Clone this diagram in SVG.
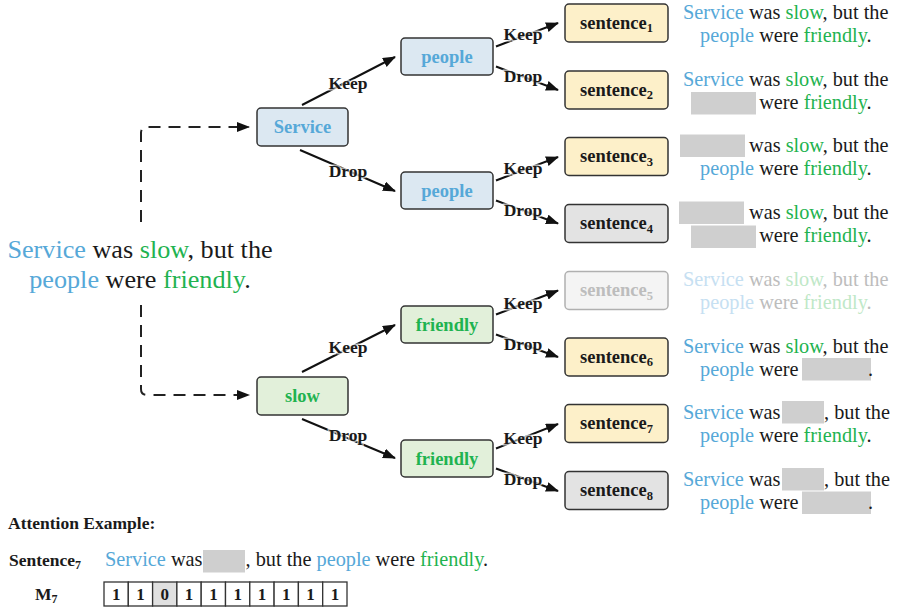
<svg xmlns="http://www.w3.org/2000/svg" width="901" height="608" viewBox="0 0 901 608">
  <style>
    text { font-family: "Liberation Serif", "Times New Roman", serif; fill: #1a1a1a; }
    .b { font-weight: bold; }
    .blue { fill: #56a8d8; }
    .green { fill: #1fb350; }
    .node { stroke: #333; stroke-width: 1.5; }
    .nb { fill: #dce8f2; }
    .ng { fill: #e2f0da; }
    .ny { fill: #fdf0c9; }
    .nx { fill: #e3e3e3; }
    .nf { fill: #f4f4f4; stroke: #b0b0b0; }
    .lbl { font-size: 18.5px; font-weight: bold; text-anchor: middle; }
    .sent { font-size: 18.5px; font-weight: bold; text-anchor: middle; }
    .edge { stroke: #111; stroke-width: 2; fill: none; marker-end: url(#arr); }
    .dash { stroke: #222; stroke-width: 2; fill: none; stroke-dasharray: 12 8; }
    .ek { font-size: 17.5px; font-weight: bold; text-anchor: middle; stroke: #fff; stroke-width: 3; stroke-opacity: 0.65; paint-order: stroke; }
    .st { font-size: 20.3px; }
    .mask { fill: #cfcfcf; }
    .fb { fill: #c6e0f2; }
    .fg { fill: #bfe8c8; }
    .fx { fill: #bdbdbd; }
    .cell { fill: #fff; stroke: #333; stroke-width: 1.3; }
    .dig { font-size: 17px; font-weight: bold; text-anchor: middle; }
  </style>
  <defs>
    <marker id="arr" markerUnits="userSpaceOnUse" markerWidth="14" markerHeight="12" refX="12" refY="5" orient="auto">
      <path d="M0,0 L13,5 L0,10 z" fill="#111"/>
    </marker>
  </defs>

  <!-- source sentence -->
  <g id="source">
    <text x="140" y="257.5" font-size="26.2" text-anchor="middle"><tspan class="blue">Service</tspan> was <tspan class="green">slow</tspan>, but the</text>
    <text x="140" y="288" font-size="26.2" text-anchor="middle"><tspan class="blue">people</tspan> were <tspan class="green">friendly</tspan>.</text>
  </g>

  <!-- connectors -->
  <g id="connectors">
    <path class="dash" d="M141,222 V133 Q141,127 147,127 H249" marker-end="url(#arr)"/>
    <path class="dash" d="M141,305 V389 Q141,395 147,395 H249" marker-end="url(#arr)"/>

    <line class="edge" x1="302" y1="105" x2="395" y2="57"/>
    <line class="edge" x1="300" y1="150" x2="395" y2="191"/>
    <line class="edge" x1="302" y1="372" x2="395" y2="325"/>
    <line class="edge" x1="302" y1="419" x2="395" y2="458"/>

    <line class="edge" x1="496" y1="46.5" x2="558" y2="23"/>
    <line class="edge" x1="496" y1="66.5" x2="558" y2="90"/>
    <line class="edge" x1="496" y1="180.5" x2="558" y2="157"/>
    <line class="edge" x1="496" y1="200.5" x2="558" y2="223.5"/>
    <line class="edge" x1="496" y1="314.5" x2="558" y2="290.5"/>
    <line class="edge" x1="496" y1="334.5" x2="558" y2="357"/>
    <line class="edge" x1="496" y1="448.5" x2="558" y2="424"/>
    <line class="edge" x1="496" y1="468.5" x2="558" y2="491"/>

    <text class="ek" x="348" y="88.5">Keep</text>
    <text class="ek" x="348" y="176.5">Drop</text>
    <text class="ek" x="348" y="353">Keep</text>
    <text class="ek" x="348" y="441">Drop</text>

    <text class="ek" x="523" y="40">Keep</text>
    <text class="ek" x="523" y="82">Drop</text>
    <text class="ek" x="523" y="174">Keep</text>
    <text class="ek" x="523" y="216">Drop</text>
    <text class="ek" x="523" y="308.5">Keep</text>
    <text class="ek" x="523" y="349.5">Drop</text>
    <text class="ek" x="523" y="443.5">Keep</text>
    <text class="ek" x="523" y="485">Drop</text>
  </g>

  <!-- first level -->
  <g id="n-service">
    <rect class="node nb" x="257" y="108" width="91" height="38" rx="4"/>
    <text class="lbl blue" x="302.5" y="133">Service</text>
  </g>
  <g id="n-slow">
    <rect class="node ng" x="257" y="377" width="91" height="38" rx="4"/>
    <text class="lbl green" x="302.5" y="402">slow</text>
  </g>

  <!-- second level -->
  <g id="n-people-a">
    <rect class="node nb" x="401" y="38" width="92" height="37" rx="4"/>
    <text class="lbl blue" x="447" y="62.5">people</text>
  </g>
  <g id="n-people-b">
    <rect class="node nb" x="401" y="172" width="92" height="37" rx="4"/>
    <text class="lbl blue" x="447" y="196.5">people</text>
  </g>
  <g id="n-friendly-a">
    <rect class="node ng" x="401" y="306" width="92" height="37" rx="4"/>
    <text class="lbl green" x="447" y="330.5">friendly</text>
  </g>
  <g id="n-friendly-b">
    <rect class="node ng" x="401" y="440" width="92" height="37" rx="4"/>
    <text class="lbl green" x="447" y="464.5">friendly</text>
  </g>

  <!-- sentence leaves -->
  <g id="s1">
    <rect class="node ny" x="565" y="4" width="103" height="38" rx="4"/>
    <text class="sent" x="616.5" y="28.5">sentence<tspan dy="3.5" font-size="12.5">1</tspan></text>
    <text class="st" x="683" y="18.5"><tspan class="blue">Service</tspan> was <tspan class="green">slow</tspan>, but the</text>
    <text class="st" x="700" y="41.5"><tspan class="blue">people</tspan> were <tspan class="green">friendly</tspan>.</text>
  </g>
  <g id="s2">
    <rect class="node ny" x="565" y="71" width="103" height="38" rx="4"/>
    <text class="sent" x="616.5" y="95.5">sentence<tspan dy="3.5" font-size="12.5">2</tspan></text>
    <text class="st" x="683" y="85.5"><tspan class="blue">Service</tspan> was <tspan class="green">slow</tspan>, but the</text>
    <rect class="mask" x="691" y="92" width="65" height="22.5"/>
    <text class="st" x="759.2" y="108.5">were <tspan class="green">friendly</tspan>.</text>
  </g>
  <g id="s3">
    <rect class="node ny" x="565" y="137.5" width="103" height="38" rx="4"/>
    <text class="sent" x="616.5" y="162">sentence<tspan dy="3.5" font-size="12.5">3</tspan></text>
    <rect class="mask" x="680" y="134.5" width="65" height="22.5"/>
    <text class="st" x="749" y="152">was <tspan class="green">slow</tspan>, but the</text>
    <text class="st" x="700" y="175"><tspan class="blue">people</tspan> were <tspan class="green">friendly</tspan>.</text>
  </g>
  <g id="s4">
    <rect class="node nx" x="565" y="204.5" width="103" height="38" rx="4"/>
    <text class="sent" x="616.5" y="229">sentence<tspan dy="3.5" font-size="12.5">4</tspan></text>
    <rect class="mask" x="679" y="201.5" width="65" height="22.5"/>
    <text class="st" x="749" y="219">was <tspan class="green">slow</tspan>, but the</text>
    <rect class="mask" x="691" y="225.5" width="65" height="22.5"/>
    <text class="st" x="759.2" y="242">were <tspan class="green">friendly</tspan>.</text>
  </g>
  <g id="s5">
    <rect class="node nf" x="565" y="271.5" width="103" height="38" rx="4"/>
    <text class="sent fx" x="616.5" y="296">sentence<tspan dy="3.5" font-size="12.5">5</tspan></text>
    <text class="st fx" x="683" y="286"><tspan class="fb">Service</tspan> was <tspan class="fg">slow</tspan>, but the</text>
    <text class="st fx" x="700" y="309"><tspan class="fb">people</tspan> were <tspan class="fg">friendly</tspan>.</text>
  </g>
  <g id="s6">
    <rect class="node ny" x="565" y="338" width="103" height="38" rx="4"/>
    <text class="sent" x="616.5" y="362.5">sentence<tspan dy="3.5" font-size="12.5">6</tspan></text>
    <text class="st" x="683" y="352.5"><tspan class="blue">Service</tspan> was <tspan class="green">slow</tspan>, but the</text>
    <text class="st" x="700" y="375.5"><tspan class="blue">people</tspan> were</text>
    <rect class="mask" x="802" y="358" width="69" height="22.5"/>
    <text class="st" x="868" y="375.5">.</text>
  </g>
  <g id="s7">
    <rect class="node ny" x="565" y="404.5" width="103" height="38" rx="4"/>
    <text class="sent" x="616.5" y="429">sentence<tspan dy="3.5" font-size="12.5">7</tspan></text>
    <text class="st" x="683" y="419"><tspan class="blue">Service</tspan> was</text>
    <rect class="mask" x="782" y="401" width="42" height="22.5"/>
    <text class="st" x="824" y="419">, but the</text>
    <text class="st" x="700" y="442"><tspan class="blue">people</tspan> were <tspan class="green">friendly</tspan>.</text>
  </g>
  <g id="s8">
    <rect class="node nx" x="565" y="471.5" width="103" height="38" rx="4"/>
    <text class="sent" x="616.5" y="496">sentence<tspan dy="3.5" font-size="12.5">8</tspan></text>
    <text class="st" x="683" y="486"><tspan class="blue">Service</tspan> was</text>
    <rect class="mask" x="782" y="468" width="42" height="22.5"/>
    <text class="st" x="824" y="486">, but the</text>
    <text class="st" x="700" y="509"><tspan class="blue">people</tspan> were</text>
    <rect class="mask" x="802" y="491.5" width="69" height="22.5"/>
    <text class="st" x="868" y="509">.</text>
  </g>

  <!-- attention example -->
  <g id="attention">
    <text class="b" x="8" y="529" font-size="17.5">Attention Example:</text>
    <text class="b" x="9" y="566" font-size="17.5">Sentence<tspan dy="3" font-size="12">7</tspan></text>
    <text class="st" x="105" y="566"><tspan class="blue">Service</tspan> was</text>
    <rect class="mask" x="203" y="550" width="42" height="22.5"/>
    <text class="st" x="245.5" y="566">, but the <tspan class="blue">people</tspan> were <tspan class="green">friendly</tspan>.</text>
    <text class="b" x="35" y="600" font-size="17.5">M<tspan dy="3" font-size="12">7</tspan></text>
  </g>

  <g id="mask-m7">
    <rect class="cell" x="104" y="582" width="24.3" height="24"/>
    <rect class="cell" x="128.3" y="582" width="24.3" height="24"/>
    <rect class="cell" x="152.6" y="582" width="24.3" height="24" style="fill:#e0e0e0"/>
    <rect class="cell" x="176.9" y="582" width="24.3" height="24"/>
    <rect class="cell" x="201.2" y="582" width="24.3" height="24"/>
    <rect class="cell" x="225.5" y="582" width="24.3" height="24"/>
    <rect class="cell" x="249.8" y="582" width="24.3" height="24"/>
    <rect class="cell" x="274.1" y="582" width="24.3" height="24"/>
    <rect class="cell" x="298.4" y="582" width="24.3" height="24"/>
    <rect class="cell" x="322.7" y="582" width="24.3" height="24"/>
    <text class="dig" x="116.2" y="600">1</text>
    <text class="dig" x="140.5" y="600">1</text>
    <text class="dig" x="164.8" y="600">0</text>
    <text class="dig" x="189.1" y="600">1</text>
    <text class="dig" x="213.4" y="600">1</text>
    <text class="dig" x="237.7" y="600">1</text>
    <text class="dig" x="262" y="600">1</text>
    <text class="dig" x="286.3" y="600">1</text>
    <text class="dig" x="310.6" y="600">1</text>
    <text class="dig" x="334.9" y="600">1</text>
  </g>
</svg>
